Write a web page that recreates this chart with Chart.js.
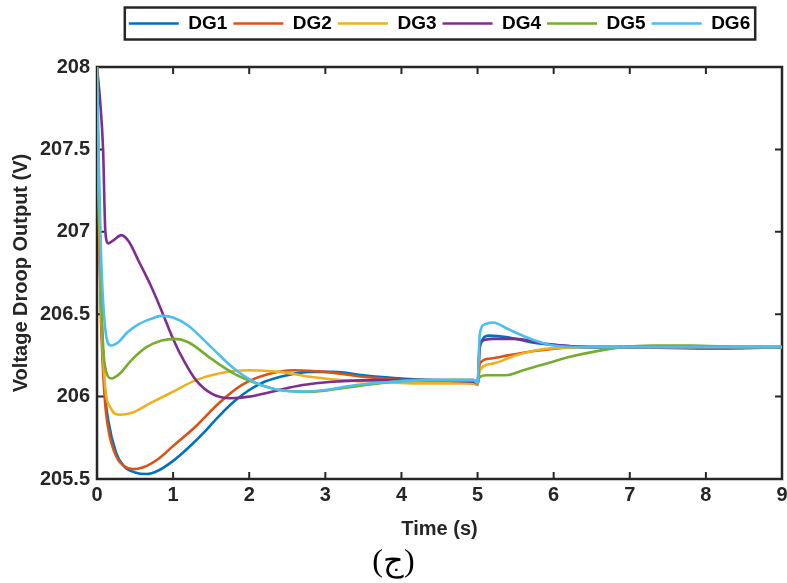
<!DOCTYPE html>
<html>
<head>
<meta charset="utf-8">
<script src="https://cdn.jsdelivr.net/npm/chart.js@4.4.0/dist/chart.umd.min.js"></script>
<style>
  html, body { margin: 0; padding: 0; background: #fff; }
  #wrap { width: 787px; height: 583px; }
</style>
</head>
<body>
<div id="wrap"><canvas id="droopChart"></canvas></div>
<script>
// values: time (s) and voltage droop output (V)
const seriesNames = ['DG1', 'DG2', 'DG3', 'DG4', 'DG5', 'DG6'];
const seriesColors = ['#0072BD', '#D95319', '#EDB120', '#7E2F8E', '#77AC30', '#4DBEEE'];

const dg1Time = [0, 0.02, 0.05, 0.1, 0.15, 0.25, 0.35, 0.5, 0.65, 0.8, 1.0, 1.2, 1.4, 1.6, 1.8, 2.0, 2.2, 2.5, 2.8, 3.1, 3.5, 4.0, 4.5, 4.95, 5.0, 5.03, 5.15, 5.4, 5.7, 6.1, 6.6, 7.2, 8, 9];
const dg1Volt = [208, 207.2, 206.6, 206.05, 205.85, 205.66, 205.58, 205.54, 205.53, 205.55, 205.61, 205.69, 205.78, 205.88, 205.97, 206.04, 206.09, 206.13, 206.15, 206.15, 206.13, 206.11, 206.1, 206.1, 206.08, 206.3, 206.37, 206.36, 206.33, 206.31, 206.3, 206.3, 206.3, 206.3];

const dg2Time = [0, 0.02, 0.05, 0.1, 0.15, 0.25, 0.35, 0.47, 0.6, 0.8, 1.0, 1.3, 1.6, 1.9, 2.2, 2.6, 3.0, 3.5, 4.0, 4.5, 4.95, 5.0, 5.03, 5.15, 5.4, 5.8, 6.3, 7, 8, 9];
const dg2Volt = [208, 207.2, 206.5, 206.0, 205.8, 205.64, 205.58, 205.56, 205.57, 205.62, 205.7, 205.82, 205.96, 206.07, 206.13, 206.16, 206.15, 206.12, 206.1, 206.09, 206.08, 206.07, 206.2, 206.23, 206.25, 206.28, 206.3, 206.3, 206.29, 206.3];

const dg3Time = [0, 0.02, 0.05, 0.1, 0.18, 0.3, 0.45, 0.7, 1.0, 1.3, 1.6, 2.0, 2.4, 2.8, 3.2, 3.7, 4.2, 4.95, 5.0, 5.03, 5.2, 5.5, 5.9, 6.4, 7, 8, 9];
const dg3Volt = [208, 207.3, 206.6, 206.1, 205.93, 205.89, 205.9, 205.96, 206.03, 206.1, 206.14, 206.16, 206.15, 206.12, 206.1, 206.09, 206.08, 206.08, 206.07, 206.16, 206.2, 206.25, 206.29, 206.3, 206.3, 206.3, 206.3];

const dg4Time = [0, 0.04, 0.08, 0.11, 0.15, 0.22, 0.32, 0.42, 0.55, 0.7, 0.85, 1.0, 1.15, 1.3, 1.5, 1.75, 2.0, 2.3, 2.7, 3.1, 3.6, 4.2, 4.95, 5.0, 5.03, 5.2, 5.5, 5.9, 6.5, 7, 8, 9];
const dg4Volt = [208, 207.8, 207.5, 207.0, 206.93, 206.95, 206.98, 206.94, 206.82, 206.68, 206.52, 206.35, 206.21, 206.1, 206.02, 205.99, 206.0, 206.03, 206.07, 206.09, 206.1, 206.1, 206.09, 206.08, 206.33, 206.35, 206.35, 206.32, 206.3, 206.3, 206.3, 206.3];

const dg5Time = [0, 0.02, 0.05, 0.1, 0.19, 0.3, 0.45, 0.65, 0.85, 1.02, 1.2, 1.5, 1.8, 2.1, 2.4, 2.8, 3.2, 3.7, 4.2, 4.95, 5.0, 5.03, 5.12, 5.38, 5.6, 5.9, 6.2, 6.5, 6.9, 7.3, 7.8, 8.5, 9];
const dg5Volt = [208, 207.4, 206.7, 206.2, 206.11, 206.14, 206.22, 206.3, 206.34, 206.35, 206.33, 206.23, 206.14, 206.08, 206.04, 206.03, 206.05, 206.08, 206.1, 206.1, 206.08, 206.12, 206.13, 206.13, 206.16, 206.2, 206.24, 206.27, 206.3, 206.31, 206.31, 206.3, 206.3];

const dg6Time = [0, 0.02, 0.05, 0.1, 0.18, 0.28, 0.4, 0.55, 0.7, 0.85, 1.0, 1.2, 1.5, 1.8, 2.1, 2.4, 2.7, 3.0, 3.4, 3.9, 4.4, 4.95, 5.0, 5.03, 5.1, 5.2, 5.4, 5.7, 6.0, 6.4, 7, 8, 9];
const dg6Volt = [208, 207.5, 206.9, 206.45, 206.31, 206.33, 206.39, 206.44, 206.47, 206.49, 206.48, 206.43, 206.3, 206.17, 206.08, 206.04, 206.03, 206.04, 206.07, 206.09, 206.1, 206.1, 206.08, 206.38, 206.44, 206.45, 206.41, 206.35, 206.31, 206.3, 206.3, 206.3, 206.3];

const xTickValues = [0, 1, 2, 3, 4, 5, 6, 7, 8, 9];
const yTickValues = [205.5, 206, 206.5, 207, 207.5, 208];

const seriesTimes = [dg1Time, dg2Time, dg3Time, dg4Time, dg5Time, dg6Time];
const seriesVolts = [dg1Volt, dg2Volt, dg3Volt, dg4Volt, dg5Volt, dg6Volt];

const axisColor = '#262626';
const mainFont = 'Liberation Sans, Arial, Helvetica, sans-serif';

Chart.defaults.font.family = mainFont;
Chart.defaults.color = axisColor;

// box around the plot, inward ticks on all four sides, border around the legend
const axesBox = {
  id: 'axesBox',
  beforeDatasetsDraw(chart) {
    const { ctx, chartArea: a, scales: { x, y } } = chart;
    ctx.save();
    ctx.strokeStyle = axisColor;
    ctx.lineWidth = 2;
    ctx.beginPath();
    x.ticks.forEach(t => {
      const px = x.getPixelForValue(t.value);
      ctx.moveTo(px, a.bottom); ctx.lineTo(px, a.bottom - 7);
      ctx.moveTo(px, a.top); ctx.lineTo(px, a.top + 7);
    });
    y.ticks.forEach(t => {
      const py = y.getPixelForValue(t.value);
      ctx.moveTo(a.left, py); ctx.lineTo(a.left + 7, py);
      ctx.moveTo(a.right, py); ctx.lineTo(a.right - 7, py);
    });
    ctx.stroke();
    ctx.lineWidth = 2.5;
    ctx.strokeRect(a.left, a.top, a.right - a.left, a.bottom - a.top);
    ctx.restore();
  },
  afterDraw(chart) {
    const boxes = chart.legend.legendHitBoxes;
    if (!boxes || !boxes.length) return;
    const first = boxes[0], last = boxes[boxes.length - 1];
    const { ctx } = chart;
    const cy = first.top + first.height / 2;
    ctx.save();
    ctx.strokeStyle = axisColor;
    ctx.lineWidth = 2.5;
    ctx.strokeRect(first.left - 4, cy - 16, last.left + last.width - first.left + 9, 32);
    ctx.restore();
  }
};

const datasets = seriesNames.map((name, i) => ({
  label: name,
  data: seriesTimes[i].map((t, k) => ({ x: t, y: seriesVolts[i][k] })),
  borderColor: seriesColors[i],
  backgroundColor: seriesColors[i],
  borderWidth: 2.6,
  pointRadius: 0,
  pointStyle: 'line',
  cubicInterpolationMode: 'monotone',
  order: seriesNames.length - i
}));

new Chart(document.getElementById('droopChart'), {
  type: 'line',
  data: { datasets },
  plugins: [axesBox],
  options: {
    responsive: true,
    maintainAspectRatio: false,
    animation: false,
    layout: { padding: { top: 8, right: 0, bottom: 4, left: 0 } },
    plugins: {
      tooltip: { enabled: false },
      legend: {
        position: 'top',
        fullSize: false,
        labels: {
          usePointStyle: true,
          pointStyleWidth: 50,
          padding: 6,
          color: '#000',
          font: { size: 19, weight: 'bold' },
          sort: (a, b) => a.datasetIndex - b.datasetIndex
        }
      },
      title: {
        display: true,
        text: '',
        weight: 500,
        font: { size: 10, lineHeight: 1 },
        padding: { top: 7, bottom: 7 }
      },
      subtitle: {
        display: true,
        position: 'bottom',
        text: '(ج)',
        color: '#000',
        font: { family: 'Liberation Serif, DejaVu Serif, serif', size: 32, lineHeight: 1 },
        padding: 0
      }
    },
    scales: {
      x: {
        type: 'linear',
        min: 0,
        max: 9,
        grid: { display: false, drawTicks: false },
        border: { display: false },
        afterBuildTicks: s => { s.ticks = xTickValues.map(v => ({ value: v })); },
        afterFit: s => { s.height = 68; s.paddingRight = 5; s.paddingLeft = 0; },
        ticks: { padding: 4, font: { size: 20, weight: 'bold' }, maxRotation: 0 },
        title: {
          display: true,
          text: 'Time (s)',
          font: { size: 20, weight: 'bold', lineHeight: 1 },
          padding: { top: 0, bottom: 8 }
        }
      },
      y: {
        type: 'linear',
        min: 205.5,
        max: 208,
        grid: { display: false, drawTicks: false },
        border: { display: false },
        afterBuildTicks: s => { s.ticks = yTickValues.map(v => ({ value: v })); },
        afterFit: s => { s.width = 97; s.paddingTop = 0; s.paddingBottom = 0; },
        ticks: { padding: 7, font: { size: 20, weight: 'bold' }, callback: v => String(v) },
        title: {
          display: true,
          text: 'Voltage Droop Output (V)',
          font: { size: 20, weight: 'bold', lineHeight: 1.2 },
          padding: { top: 9.5, bottom: 0 }
        }
      }
    }
  }
});
</script>
</body>
</html>
